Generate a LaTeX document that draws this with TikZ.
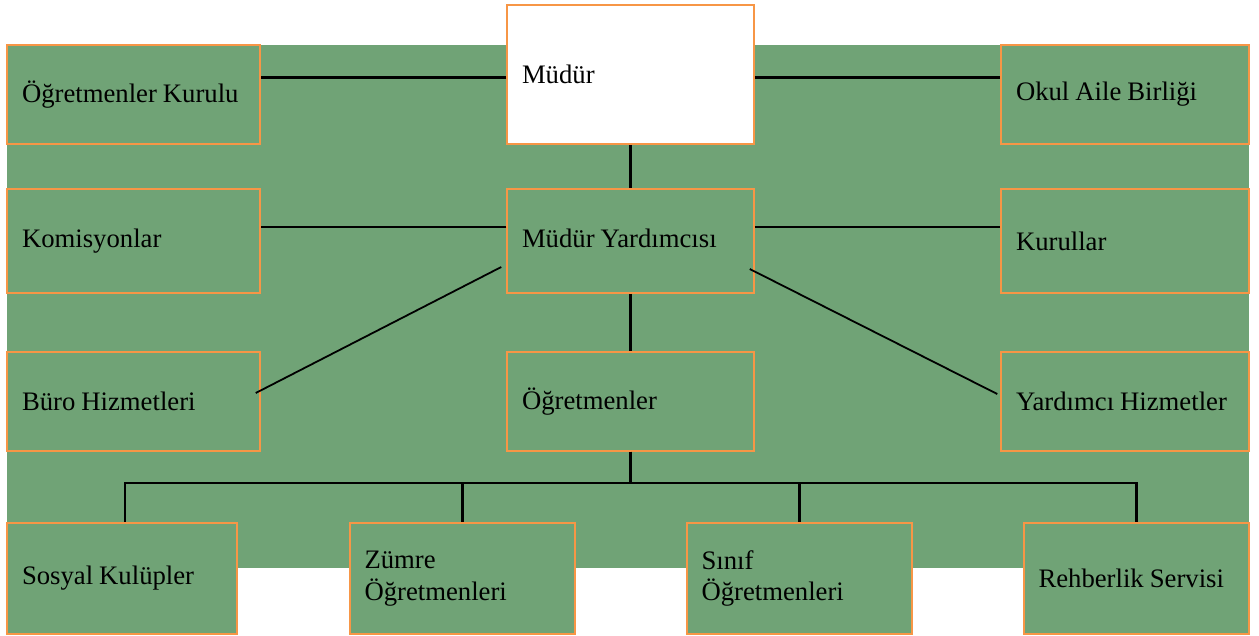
\documentclass[tikz,border=0pt]{standalone}
\usepackage{fontspec}
\setmainfont[WordSpace=0.9]{Liberation Serif}
\definecolor{bggreen}{RGB}{112,163,118}
\definecolor{boxorange}{RGB}{247,150,70}
\begin{document}
\begin{tikzpicture}[x=1pt,y=-1pt,
  box/.style={draw=boxorange, line width=1.5pt, fill=bggreen, rectangle,
    inner xsep=15pt, inner ysep=0pt, align=flush left,
    font=\fontsize{26.7}{31.5}\selectfont},
  conn/.style={draw=black, line width=2.2pt},
  thinconn/.style={draw=black, line width=1.3pt}]
\useasboundingbox (0,0) rectangle (1259,635);
\fill[bggreen] (7,45) rectangle (1249,568);
% top row
\node[box, minimum width=253pt, minimum height=99pt, text width=223pt] (ok) at (133.5,94.5) {\raisebox{-2pt}{Öğretmenler Kurulu}};
\node[box, fill=white, line width=1.9pt, minimum width=247pt, minimum height=139pt, text width=217pt] (mudur) at (630.5,74.5) {Müdür};
\node[box, minimum width=248pt, minimum height=99pt, text width=218pt] (oab) at (1125,94.5) {\raisebox{-2pt}{Okul Aile Birliği}};
% second row
\node[box, minimum width=253pt, minimum height=104pt, text width=223pt] (kom) at (133.5,241) {\raisebox{5pt}{Komisyonlar}};
\node[box, minimum width=247pt, minimum height=104pt, text width=217pt] (my) at (630.5,241) {\raisebox{5pt}{Müdür Yardımcısı}};
\node[box, minimum width=248pt, minimum height=104pt, text width=218pt] (kur) at (1125,241) {Kurullar};
% third row
\node[box, minimum width=253pt, minimum height=99pt, text width=223pt] (buro) at (133.5,401.5) {Büro Hizmetleri};
\node[box, minimum width=247pt, minimum height=99pt, text width=217pt] (ogr) at (630.5,401.5) {Öğretmenler};
\node[box, minimum width=248pt, minimum height=99pt, text width=218pt] (yh) at (1125,401.5) {Yardımcı Hizmetler};
% bottom row
\node[box, minimum width=230pt, minimum height=111pt, text width=200pt] (sk) at (122,578.5) {Sosyal Kulüpler};
\node[box, minimum width=225pt, minimum height=111pt, text width=196pt, inner xsep=14pt] (zo) at (462.5,578.5) {Zümre\\Öğretmenleri};
\node[box, minimum width=225pt, minimum height=111pt, text width=196pt, inner xsep=14pt] (so) at (799.5,578.5) {Sınıf\\Öğretmenleri};
\node[box, minimum width=225pt, minimum height=111pt, text width=196pt, inner xsep=14pt] (rs) at (1136.5,578.5) {Rehberlik Servisi};
% connectors
\coordinate (m1) at ([yshift=-3pt]mudur.west);
\coordinate (m2) at ([yshift=-3pt]mudur.east);
\draw[conn] (m1) -- (m1 -| ok.east);
\draw[conn] (m2) -- (m2 -| oab.west);
\draw[conn] (mudur.south) -- (my.north);
\coordinate (k1) at ([yshift=14pt]my.west);
\coordinate (k2) at ([yshift=14pt]my.east);
\draw[thinconn] (k1) -- (k1 -| kom.east);
\draw[thinconn] (k2) -- (k2 -| kur.west);
\draw[conn, line width=1.8pt] ([xshift=-5pt,yshift=-26pt]my.west) -- ([xshift=-5pt,yshift=8.5pt]buro.east);
\draw[conn, line width=1.8pt] ([xshift=-5pt,yshift=-28pt]my.east) -- ([xshift=-3pt,yshift=7.5pt]yh.west);
\draw[conn] (my.south) -- (ogr.north);
\coordinate (bus) at (630.5,483);
\draw[conn] (ogr.south) -- (bus) -| ([xshift=3pt]sk.north);
\draw[conn] (ogr.south) -- (bus) -| (zo.north);
\draw[conn] (ogr.south) -- (bus) -| (so.north);
\draw[conn] (ogr.south) -- (bus) -| (rs.north);
\end{tikzpicture}
\end{document}
